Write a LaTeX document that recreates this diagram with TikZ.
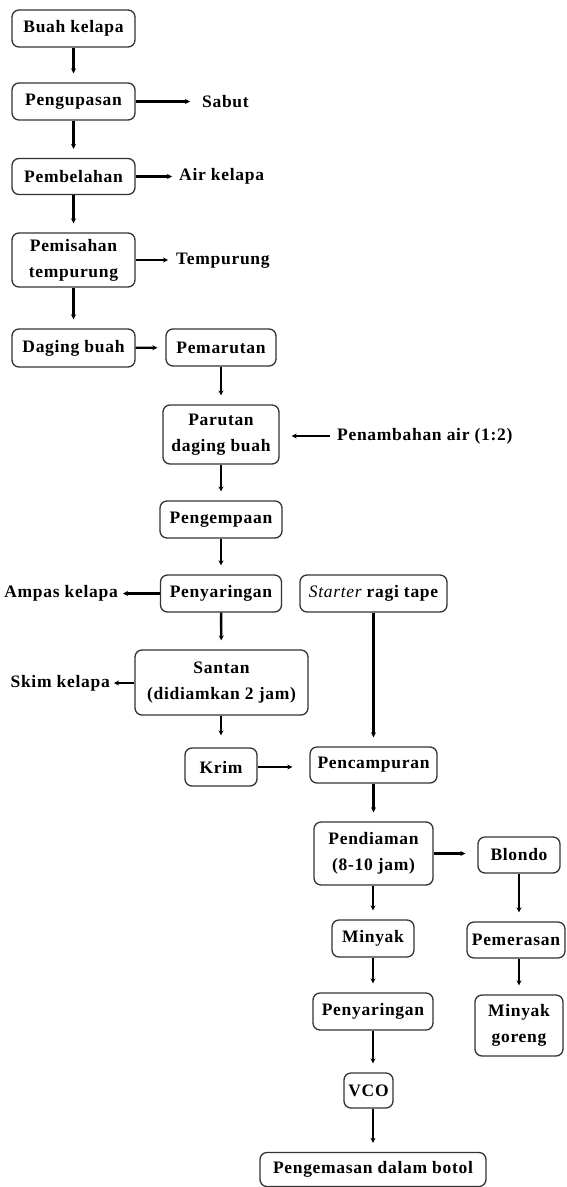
\documentclass[tikz,border=0pt]{standalone}
\usepackage{fontspec}
\setmainfont{Liberation Serif}[LetterSpace=4]
\usepackage{tikz}
\usetikzlibrary{arrows.meta}

\begin{document}
\begin{tikzpicture}[x=1pt, y=-1pt,
	box/.style={draw=black!80, line width=1.3pt, rounded corners=7pt, align=center, inner sep=2pt, font=\bfseries\fontsize{17.5}{26}\selectfont},
	lbl/.style={inner sep=2pt, font=\bfseries\fontsize{17.5}{26}\selectfont},
	arr/.style={line width=2.4pt, -{Stealth[length=5pt,width=5pt]}, shorten >=9pt}]
				\useasboundingbox (0,0) rectangle (566,1187);
				
				\node[box, minimum width=123, minimum height=37] (buah) at (73.5,28.5) {Buah kelapa};
				\node[box, minimum width=123, minimum height=37] (kupas) at (73.5,101.5) {Pengupasan};
				\node[lbl, anchor=west] (sabut) at (200,102) {Sabut};
				\node[box, minimum width=123, minimum height=36] (belah) at (73.5,176.5) {Pembelahan};
				\node[lbl, anchor=west] (airk) at (177,176) {Air kelapa};
				\node[box, minimum width=123, minimum height=54] (pisah) at (73.5,260) {Pemisahan\\tempurung};
				\node[lbl, anchor=west] (tempurung) at (174,261) {Tempurung};
				\node[box, minimum width=123, minimum height=38] (daging) at (73.5,348) {Daging buah};
				\node[box, minimum width=110, minimum height=37] (parut) at (221,347.5) {Pemarutan};
				\node[box, minimum width=116, minimum height=59] (parutan) at (221,434.5) {Parutan\\daging buah};
				\node[lbl, anchor=west] (tambah) at (335,436) {Penambahan air (1:2)};
				\node[box, minimum width=122, minimum height=37] (kempa) at (221,519.5) {Pengempaan};
				\node[box, minimum width=121, minimum height=37] (saring) at (221,593.5) {Penyaringan};
				\node[lbl, anchor=east] (ampas) at (120,593) {Ampas kelapa};
				\node[box, minimum width=147, minimum height=37] (starter) at (373.5,593.5) {{\mdseries\itshape Starter} ragi tape};
				\node[box, minimum width=173, minimum height=65] (santan) at (221.5,682.5) {Santan\\(didiamkan 2 jam)};
				\node[lbl, anchor=east] (skim) at (112,683) {Skim kelapa};
				\node[box, minimum width=72, minimum height=38] (krim) at (221,767) {Krim};
				\node[box, minimum width=127, minimum height=36] (campur) at (373.5,765) {Pencampuran};
				\node[box, minimum width=119, minimum height=63] (diam) at (373.5,853.5) {Pendiaman\\(8-10 jam)};
				\node[box, minimum width=82, minimum height=36] (blondo) at (519,855) {Blondo};
				\node[box, minimum width=82, minimum height=37] (minyak) at (373,938.5) {Minyak};
				\node[box, minimum width=98, minimum height=36] (peras) at (516,940) {Pemerasan};
				\node[box, minimum width=88, minimum height=61] (goreng) at (519,1025.5) {Minyak\\goreng};
				\node[box, minimum width=120, minimum height=37] (saring2) at (373,1011.5) {Penyaringan};
				\node[box, minimum width=49, minimum height=35] (vco) at (368.5,1090.5) {VCO};
				\node[box, minimum width=226, minimum height=34] (kemas) at (373,1169.5) {Pengemasan dalam botol};
				
				\draw[arr] (buah) -- (kupas);
				\draw[arr] (kupas) -- (belah);
				\draw[arr] (belah) -- (pisah);
				\draw[arr] (pisah) -- (daging);
				\draw[arr, shorten >=10pt] (kupas.east) -- (kupas.east -| sabut.west);
				\draw[arr, shorten >=5pt] (belah.east) -- (belah.east -| airk.west);
				\draw[arr, shorten >=6pt] (pisah.east) -- (pisah.east -| tempurung.west);
				\draw[arr, shorten >=8pt] (daging) -- (parut);
				\draw[arr] (parut) -- (parutan);
				\draw[arr, shorten <=5pt, shorten >=12pt] (tambah.west) -- (tambah.west -| parutan.east);
				\draw[arr] (parutan) -- (kempa);
				\draw[arr] (kempa) -- (saring);
				\draw[arr, shorten >=3pt] (saring.west) -- (saring.west -| ampas.east);
				\draw[arr] (saring) -- (santan);
				\draw[arr, shorten >=2pt] (santan.west |- skim) -- (skim.east);
				\draw[arr, shorten >=12pt] (santan.south -| krim) -- (krim.north);
				\draw[arr, shorten >=17pt] (krim.east) -- (krim.east -| campur.west);
				\draw[arr] (starter) -- (campur);
				\draw[arr] (campur) -- (diam);
				\draw[arr, shorten >=12pt] (diam.east) -- (diam.east -| blondo.west);
				\draw[arr] (blondo.south) -- (blondo.south |- peras.north);
				\draw[arr] (goreng.north |- peras.south) -- (goreng.north);
				\draw[arr] (diam.south -| minyak) -- (minyak.north);
				\draw[arr] (minyak) -- (saring2);
				\draw[arr] (saring2.south) -- (saring2.south |- vco.north);
				\draw[arr] (kemas.north |- vco.south) -- (kemas.north);
			\end{tikzpicture}
\end{document}
